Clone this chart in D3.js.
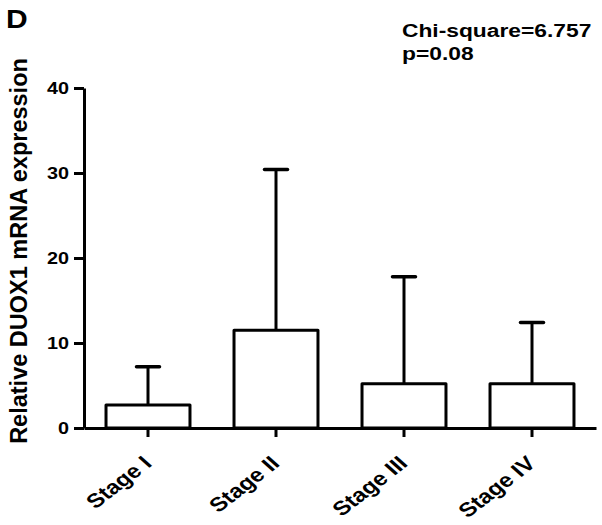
<!DOCTYPE html>
<html>
<head>
<meta charset="utf-8">
<script src="https://cdn.jsdelivr.net/npm/d3@7"></script>
<style>
  body { margin: 0; background: #fff; }
  svg { display: block; font-family: "Liberation Sans", Arial, sans-serif; font-weight: bold; }
</style>
</head>
<body>
<div class="chart"></div>
<script>
// values
const stages = ["Stage I", "Stage II", "Stage III", "Stage IV"];
const means = [2.7, 11.5, 5.2, 5.2];
const upper = [7.2, 30.4, 17.8, 12.4];
const yTicks = [0, 10, 20, 30, 40];
const statLines = ["Chi-square=6.757", "p=0.08"];

const width = 602, height = 525;
const stretch = 1.2; // the picture's text is a bit wide

const svg = d3.select("div.chart").append("svg")
    .attr("width", width)
    .attr("height", height);

const x = d3.scaleBand()
    .domain(stages)
    .range([84, 596])
    .paddingInner(0.344)
    .paddingOuter(0.172);

const y = d3.scaleLinear()
    .domain([0, 40])
    .range([428, 88]);

const data = stages.map((s, i) => ({stage: s, mean: means[i], up: upper[i]}));

// error bars (upper only), drawn first so bar tops cover the joint
const capW = 23;
svg.selectAll(".err")
    .data(data)
  .enter().append("line")
    .attr("class", "err")
    .attr("x1", d => x(d.stage) + x.bandwidth() / 2)
    .attr("x2", d => x(d.stage) + x.bandwidth() / 2)
    .attr("y1", d => y(d.mean))
    .attr("y2", d => y(d.up))
    .attr("stroke", "#000")
    .attr("stroke-width", 3);

svg.selectAll(".cap")
    .data(data)
  .enter().append("line")
    .attr("class", "cap")
    .attr("x1", d => x(d.stage) + x.bandwidth() / 2 - capW / 2)
    .attr("x2", d => x(d.stage) + x.bandwidth() / 2 + capW / 2)
    .attr("y1", d => y(d.up))
    .attr("y2", d => y(d.up))
    .attr("stroke", "#000")
    .attr("stroke-width", 3.5)
    .attr("stroke-linecap", "round");

svg.selectAll(".bar")
    .data(data)
  .enter().append("rect")
    .attr("class", "bar")
    .attr("x", d => x(d.stage))
    .attr("y", d => y(d.mean))
    .attr("width", x.bandwidth())
    .attr("height", d => y(0) - y(d.mean))
    .attr("fill", "#fff")
    .attr("stroke", "#000")
    .attr("stroke-width", 3)
    .attr("stroke-linejoin", "round");

// y axis
const gy = svg.append("g")
    .attr("transform", "translate(84,0)")
    .call(d3.axisLeft(y).tickValues(yTicks).tickSize(10).tickSizeOuter(0));
gy.select(".domain").attr("stroke-width", 3);
gy.selectAll(".tick line").attr("stroke-width", 3);
gy.selectAll(".tick text")
    .attr("x", 0)
    .attr("dy", "0.35em")
    .attr("transform", "translate(-15,0) scale(" + stretch + ",1)")
    .attr("fill", "#000")
    .style("font-size", "16.5px")
    .style("font-family", "inherit");

// x axis
const gx = svg.append("g")
    .attr("transform", "translate(0," + y(0) + ")")
    .call(d3.axisBottom(x).tickSize(9).tickSizeOuter(0));
gx.select(".domain").attr("stroke-width", 3);
gx.selectAll(".tick line").attr("stroke-width", 3);
gx.selectAll(".tick text")
    .attr("y", 0)
    .attr("dy", 0)
    .attr("text-anchor", "end")
    .attr("transform", "translate(5,37) scale(" + stretch + ",1) rotate(-43)")
    .attr("fill", "#000")
    .style("font-size", "20px")
    .style("font-family", "inherit");

// y axis title
svg.append("text")
    .attr("transform", "translate(27,251) rotate(-90)")
    .attr("text-anchor", "middle")
    .style("font-size", "23.5px")
    .text("Relative DUOX1 mRNA expression");

// panel letter
svg.append("text")
    .attr("transform", "translate(6,28) scale(" + stretch + ",1)")
    .style("font-size", "25px")
    .text("D");

// statistics note
svg.selectAll(".stat")
    .data(statLines)
  .enter().append("text")
    .attr("class", "stat")
    .attr("transform", (d, i) => "translate(402," + (37 + i * 23) + ") scale(" + stretch + ",1)")
    .style("font-size", "19px")
    .text(d => d);
</script>
</body>
</html>
